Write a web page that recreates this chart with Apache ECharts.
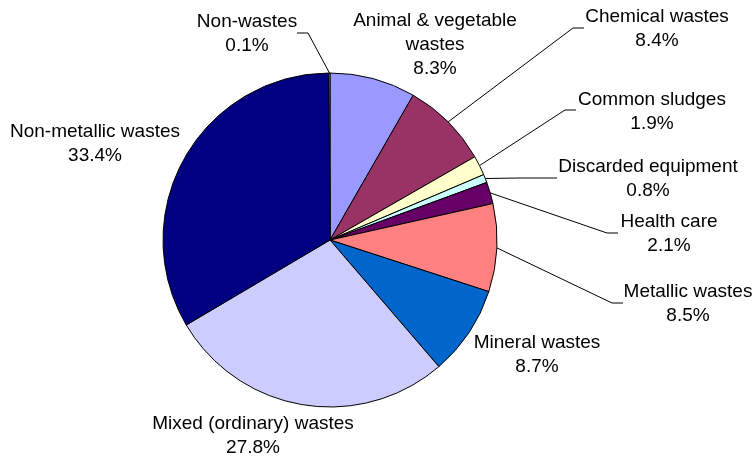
<!DOCTYPE html>
<html>
<head>
<meta charset="utf-8">
<script src="https://cdn.jsdelivr.net/npm/echarts@6/dist/echarts.min.js"></script>
<style>
  html, body { margin: 0; padding: 0; background: #fff; }
  #chart { width: 756px; height: 461px; }
</style>
</head>
<body>
<div id="chart"></div>
<script>
// Waste categories, clockwise from 12 o'clock
var categories = [
  'Animal & vegetable\nwastes',
  'Chemical wastes',
  'Common sludges',
  'Discarded equipment',
  'Health care',
  'Metallic wastes',
  'Mineral wastes',
  'Mixed (ordinary) wastes',
  'Non-metallic wastes',
  'Non-wastes'
];
// Share of total waste, %
var shares = [8.3, 8.4, 1.9, 0.8, 2.1, 8.5, 8.7, 27.8, 33.4, 0.1];

// Slice fills
var sliceColors = ['#9999FF', '#993366', '#FFFFCC', '#CCFFFF', '#660066',
                   '#FF8080', '#0066CC', '#CCCCFF', '#000080', '#FFFFCC'];

// Label block centres; leader = [elbow x, elbow y, end x] or null for no leader
var labelSpots = [
  { x: 435, y: 45,  leader: null },
  { x: 657, y: 29,  leader: [573, 28, 584] },
  { x: 652, y: 112, leader: [565, 110, 576] },
  { x: 648, y: 179, leader: [520, 178, 557] },
  { x: 669, y: 234, leader: [607, 233, 618] },
  { x: 688, y: 304, leader: [612, 303, 623] },
  { x: 537, y: 355, leader: null },
  { x: 253, y: 436, leader: null },
  { x: 95,  y: 144, leader: null },
  { x: 247, y: 34,  leader: [308, 33, 297] }
];

var pieData = categories.map(function (name, i) {
  return {
    name: name,
    value: shares[i],
    itemStyle: { color: sliceColors[i] },
    labelLine: { show: !!labelSpots[i].leader }
  };
});

var chart = echarts.init(document.getElementById('chart'), null, { renderer: 'canvas' });

chart.setOption({
  animation: false,
  backgroundColor: '#ffffff',
  series: [{
    type: 'pie',
    center: [330, 240],
    radius: 167,
    startAngle: 90,
    clockwise: true,
    avoidLabelOverlap: false,
    minAngle: 0,
    data: pieData,
    itemStyle: { borderColor: '#000000', borderWidth: 1 },
    label: {
      show: true,
      position: 'outside',
      color: '#000000',
      fontFamily: 'Liberation Sans, Arial, sans-serif',
      fontSize: 19,
      lineHeight: 24,
      align: 'center',
      formatter: function (p) {
        return p.name + '\n' + shares[p.dataIndex].toFixed(1) + '%';
      }
    },
    labelLine: {
      show: true,
      length: 10,
      length2: 10,
      smooth: false,
      lineStyle: { color: '#000000', width: 1 }
    },
    emphasis: { disabled: true },
    labelLayout: function (params) {
      var spot = labelSpots[params.dataIndex];
      var out = { x: spot.x, y: spot.y, align: 'center', verticalAlign: 'middle' };
      if (spot.leader && params.labelLinePoints) {
        var s = params.labelLinePoints[0];
        out.labelLinePoints = [
          [s[0], s[1]],
          [spot.leader[0], spot.leader[1]],
          [spot.leader[2], spot.leader[1]]
        ];
      }
      return out;
    }
  }]
});
</script>
</body>
</html>
